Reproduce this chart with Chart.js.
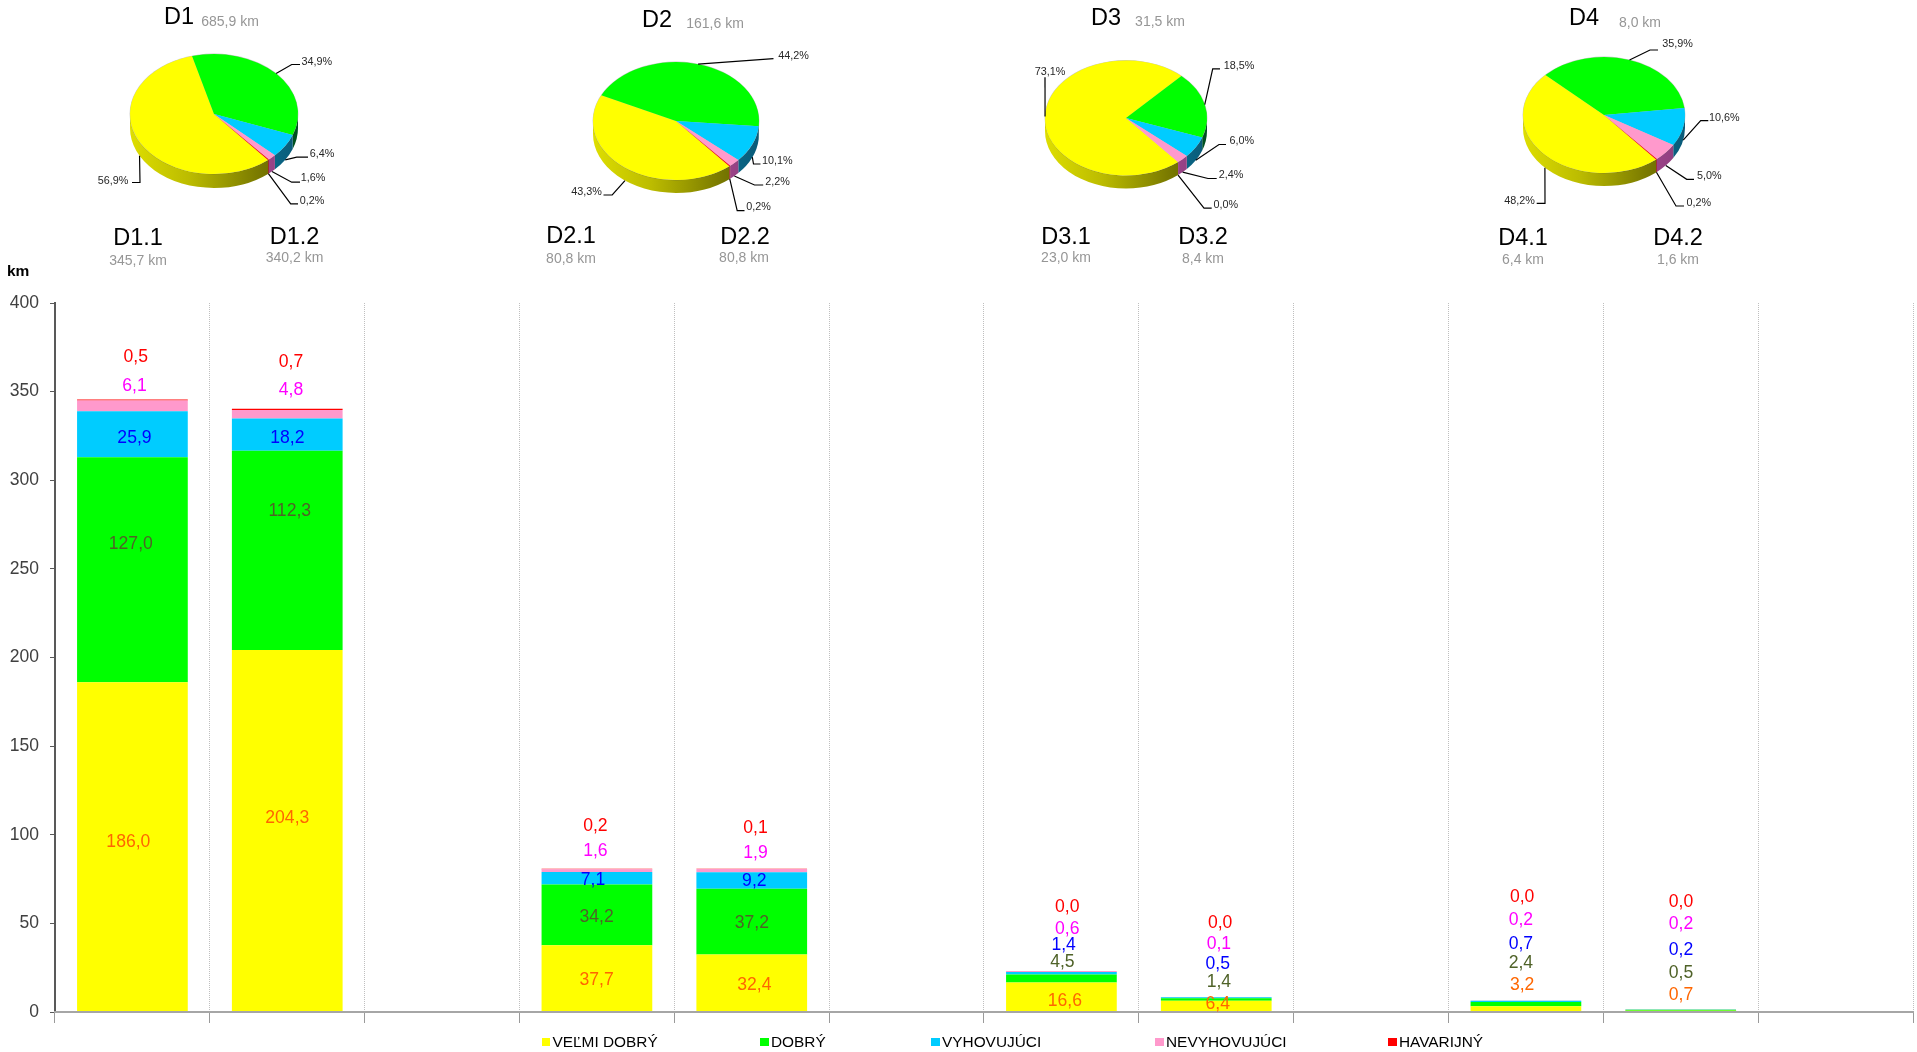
<!DOCTYPE html>
<html lang="sk">
<head>
<meta charset="utf-8">
<title>D1–D4</title>
<script src="https://cdn.jsdelivr.net/npm/chart.js@4/dist/chart.umd.min.js"></script>
<style>
html,body{margin:0;padding:0;background:#fff;width:1917px;height:1052px;overflow:hidden;font-family:"Liberation Sans",Arial,sans-serif}
canvas{position:absolute;display:block;pointer-events:none}
.t{position:absolute;transform:translate(-50%,-50%);white-space:nowrap;line-height:1}
.big{font-size:23.5px;color:#000}
.km{font-size:14px;color:#969696}
.lg{position:absolute;top:1034px;height:16px;font-size:15.4px;line-height:16px;color:#000;white-space:nowrap;padding-left:11px}
.lg i{position:absolute;left:0;top:3.5px;width:8.5px;height:8.5px}
</style>
</head>
<body>
<canvas id="main" width="1917" height="1052" style="left:0;top:0"></canvas>
<div id="overlay"></div>
<script>
// ---- data ----
const categories = ['D1.1','D1.2','','D2.1','D2.2','','D3.1','D3.2','','D4.1','D4.2',''];
const seriesNames = ['VEĽMI DOBRÝ','DOBRÝ','VYHOVUJÚCI','NEVYHOVUJÚCI','HAVARIJNÝ'];
const veryGood = [186.0,204.3,null,37.7,32.4,null,16.6,6.4,null,3.2,0.7,null];
const good     = [127.0,112.3,null,34.2,37.2,null,4.5,1.4,null,2.4,0.5,null];
const passable = [25.9,18.2,null,7.1,9.2,null,1.4,0.5,null,0.7,0.2,null];
const poor     = [6.1,4.8,null,1.6,1.9,null,0.6,0.1,null,0.2,0.2,null];
const failed   = [0.5,0.7,null,0.2,0.1,null,0.0,0.0,null,0.0,0.0,null];
const sectionKm = [345.7,340.2,null,80.8,80.8,null,23.0,8.4,null,6.4,1.6,null];
const yTicks = [0,50,100,150,200,250,300,350,400];
const pieNames = ['D1','D2','D3','D4'];
const pieKm = [685.9,161.6,31.5,8.0];
const pieD1 = [56.9,34.9,6.4,1.6,0.2];
const pieD2 = [43.3,44.2,10.1,2.2,0.2];
const pieD3 = [73.1,18.5,6.0,2.4,0.0];
const pieD4 = [48.2,35.9,10.6,5.0,0.2];

// ---- styles ----
const FONT = '"Liberation Sans", Arial, sans-serif';
const fills = ['#ffff00','#00ff00','#00ccff','#ff99cc','#ff0000'];
const labelInk = ['#ff6600','#4f6228','#0000ff','#ff00ff','#ff0000'];
const rimShades = [
  ['#dede00','#bcbc00','#7c7c00','#5a5a00'],
  ['#00a800','#008a00','#006a20','#004f20'],
  ['#0f9fc8','#0d88aa','#0b6f90','#095a78'],
  ['#c05aa0','#b04f96','#a0468c','#8c3c7c'],
  ['#b00000','#a00000','#900000','#800000']
];

// ---- layout (page px, measured on the 1568-wide view, K scales up) ----
const K = 1917/1568;
const legendX = [541.5,760,931,1155,1388];
const sectionTitlePos = [[138,238,138,260],[294.5,237,294.5,257],null,[571,236,571,258],[745,237,744,257],null,
  [1066,237,1066,257],[1203,237,1203,258],null,[1523,238,1523,259],[1678,238,1678,259],null];
const pieTitlePos = [[179,17,230,20.6],[657,20,715,23],[1106,18,1160,21],[1584,18,1640,22]];
const labelPos = [
 [[105,689],[107,445],[110,358],[110,316],[111,292]],
 [[235,669],[237,418],[235,358],[238,319],[238,296]],
 null,
 [[488,802],[488,750],[485,720],[487,696],[487,676]],
 [[617,806],[615,755],[617,721],[618,698],[618,677]],
 null,
 [[871,819],[869,787],[870,773],[873,760],[873,742]],
 [[996,821],[997,803],[996,789],[997,772],[998,755]],
 null,
 [[1245,806],[1244,788],[1244,772],[1244,753],[1245,734]],
 [[1375,814],[1375,796],[1375,777],[1375,756],[1375,738]],
 null
];
// pie geometry: cx, cy, rx, ry, rim depth
const pieGeom = [[214,113.5,84,60,14],[675.5,121,83,59,13],[1126,117.5,81,57.5,13],[1604,115,81,58,13]];
// per slice: text centre x,y then leader points after the rim anchor
const pieLabels = [
 [[113,180.5,[140,182],[132,182]],[316.7,61.7,[291.7,64],[300,64]],[322,154,[296.7,156.7],[308,156.7]],[313,178,[291.7,181.7],[300,181.7]],[312,201,[290.7,203.3],[298,203.3]]],
 [[586,192,[611.7,195],[603,195]],[793,56,[773,58.7]],[776.7,161,[753,164],[760,164]],[777,182,[754,185],[762.7,185]],[758,207.5,[736.7,210.7],[744,210.7]]],
 [[1050,71.5,[1045,76.7]],[1239,66,[1212.7,68.3],[1220,68.3]],[1241.7,141,[1219,144],[1226,144]],[1231,174.5,[1208,178],[1216.7,178]],[1225.7,204.5,[1204,207.7],[1211.7,207.7]]],
 [[1519.5,201,[1545,203.3],[1536.7,203.3]],[1677.5,44,[1650,50],[1658,50]],[1724.3,118,[1700.7,120.7],[1708.3,120.7]],[1709.3,176.5,[1686.7,179.3],[1694,179.3]],[1698.7,203,[1676,206],[1684,206]]]
];

const comma = v => v.toFixed(1).replace('.',',');

// ---- main stacked bars ----
const seriesValues = [veryGood,good,passable,poor,failed];
const barLabels = {
  id:'barLabels',
  afterDraw(chart){
    const c = chart.ctx;
    c.save();
    c.font = '17.6px '+FONT;
    c.textAlign = 'center';
    c.textBaseline = 'middle';
    labelPos.forEach((row,i)=>{
      if(!row) return;
      row.forEach((p,s)=>{
        c.fillStyle = labelInk[s];
        c.fillText(comma(seriesValues[s][i]), p[0]*K, p[1]*K);
      });
    });
    c.font = 'bold 15.5px '+FONT;
    c.textAlign = 'left';
    c.fillStyle = '#000';
    c.fillText('km', 7, 271.5);
    c.restore();
  }
};
new Chart(document.getElementById('main'),{
  type:'bar',
  data:{labels:categories,datasets:seriesNames.map((n,i)=>({
    label:n,data:seriesValues[i],backgroundColor:fills[i],borderWidth:0,
    barPercentage:0.715,categoryPercentage:1,stack:'a'}))},
  options:{
    responsive:false,animation:false,
    layout:{padding:{top:303,left:0,right:4,bottom:29}},
    plugins:{legend:{display:false},tooltip:{enabled:false},title:{display:false}},
    scales:{
      x:{stacked:true,offset:true,
        afterFit(s){s.height=11;},
        ticks:{display:false,autoSkip:false},
        grid:{color:c=>c.index===12?'rgba(0,0,0,0)':'#bfbfbf',lineWidth:1,tickColor:'#9a9a9a',tickLength:11,tickWidth:1,offset:true},
        border:{color:'#a6a6a6',width:2,dash:[1,1],z:1}},
      y:{stacked:true,min:0,max:400,
        afterFit(s){s.width=55;},
        afterBuildTicks(s){s.ticks=yTicks.map(v=>({value:v}));},
        ticks:{color:'#404040',font:{family:FONT,size:17.5},padding:11},
        grid:{drawOnChartArea:false,tickColor:'#595959',tickLength:5,lineWidth:1},
        border:{color:'#595959',width:2}}
    }
  },
  plugins:[barLabels]
});

// ---- pies ----
const overlay = document.getElementById('overlay');
function addText(cls,txt,x,y){
  const d=document.createElement('div');d.className='t '+cls;d.textContent=txt;
  d.style.left=x+'px';d.style.top=y+'px';overlay.appendChild(d);
}
const CW=360,CH=260;
[pieD1,pieD2,pieD3,pieD4].forEach((vals,pi)=>{
  const [cx,cy,rx,ry,depth]=pieGeom[pi];
  const cv=document.createElement('canvas');
  cv.width=CW;cv.height=CH;
  cv.style.left=(cx-CW/2)+'px';cv.style.top=(cy-CH/2)+'px';
  overlay.appendChild(cv);
  const ox=cx-CW/2, oy=cy-CH/2;
  const squash={
    id:'squash',
    beforeDatasetsDraw(chart){
      const c=chart.ctx, arcs=chart.getDatasetMeta(0).data;
      const ax=arcs[0].x, ay=arcs[0].y;
      c.save();
      arcs.forEach((a,i)=>{
        let s=a.startAngle, e=a.endAngle;
        if(e<=s) return;
        [0,2*Math.PI,-2*Math.PI].forEach(w=>{
          const lo=Math.max(s,w), hi=Math.min(e,w+Math.PI);
          if(hi<=lo) return;
          const g=c.createLinearGradient(ax-rx,0,ax+rx,0);
          const sh=rimShades[i];
          g.addColorStop(0,sh[0]);g.addColorStop(0.35,sh[1]);g.addColorStop(0.75,sh[2]);g.addColorStop(1,sh[3]);
          c.fillStyle=g;
          c.beginPath();
          c.ellipse(ax,ay,rx,ry,0,lo,hi);
          c.ellipse(ax,ay+depth,rx,ry,0,hi,lo,true);
          c.closePath();
          c.fill();
        });
      });
      c.beginPath();
      c.ellipse(ax,ay,rx+0.4,ry+0.4,0,0,2*Math.PI);
      c.fillStyle='rgba(90,90,90,0.35)';
      c.fill();
      c.restore();
      c.save();
      c.translate(ax,ay);c.scale(1,ry/rx);c.translate(-ax,-ay);
    },
    afterDatasetsDraw(chart){
      const c=chart.ctx;
      c.restore();
      const arcs=chart.getDatasetMeta(0).data;
      c.save();
      c.font='10.8px '+FONT;
      c.textAlign='center';c.textBaseline='middle';
      arcs.forEach((a,i)=>{
        const L=pieLabels[pi][i];
        const mid=(a.startAngle+a.endAngle)/2;
        const sy=Math.sin(mid);
        const px=a.x+Math.cos(mid)*rx;
        const py=a.y+sy*ry+(sy>0?depth:0);
        c.strokeStyle='#000';c.lineWidth=1.2;
        c.beginPath();c.moveTo(px,py);
        for(let k=2;k<L.length;k++) c.lineTo(L[k][0]-ox,L[k][1]-oy);
        c.stroke();
        c.fillStyle='#262626';
        c.fillText(comma(vals[i])+'%',L[0]-ox,L[1]-oy);
      });
      c.restore();
    }
  };
  new Chart(cv,{
    type:'pie',
    data:{labels:seriesNames,datasets:[{data:vals,backgroundColor:fills,borderWidth:0}]},
    options:{responsive:false,animation:false,rotation:140,radius:rx,
      layout:{padding:0},
      plugins:{legend:{display:false},tooltip:{enabled:false}}},
    plugins:[squash]
  });
  const tp=pieTitlePos[pi];
  addText('big',pieNames[pi],tp[0],tp[1]);
  addText('km',comma(pieKm[pi])+' km',tp[2],tp[3]);
});

// ---- section titles ----
categories.forEach((name,i)=>{
  const p=sectionTitlePos[i];
  if(!p) return;
  addText('big',name,p[0],p[1]);
  addText('km',comma(sectionKm[i])+' km',p[2],p[3]);
});

// ---- legend ----
seriesNames.forEach((n,i)=>{
  const d=document.createElement('div');d.className='lg';d.style.left=legendX[i]+'px';
  const sw=document.createElement('i');sw.style.background=fills[i];
  d.appendChild(sw);d.appendChild(document.createTextNode(n));
  overlay.appendChild(d);
});
</script>
</body>
</html>
